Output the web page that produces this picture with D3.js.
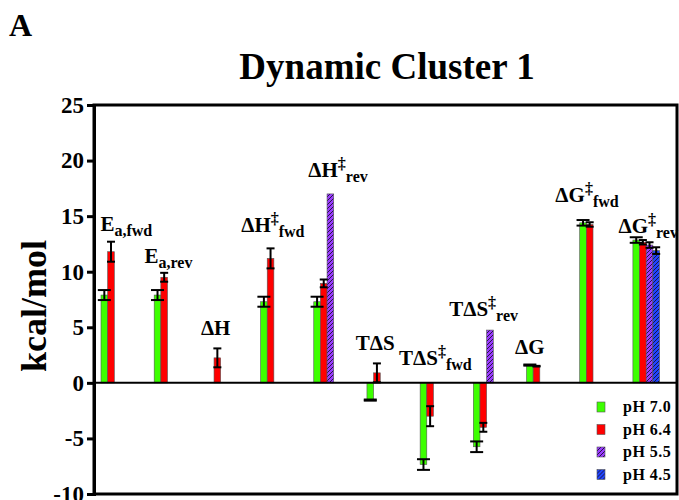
<!DOCTYPE html>
<html lang="en">
<head>
  <meta charset="UTF-8">
  <title>Dynamic Cluster 1</title>
  <style>
    body {
      margin: 0;
      background: #fff;
    }
    svg text {
      font-family: "Liberation Serif", "Times New Roman", Times, "DejaVu Serif", serif;
      font-weight: bold;
      fill: #000;
    }
  </style>
</head>
<body>
  <div id="chart"></div>

  <script src="https://d3js.org/d3.v7.min.js"></script>

  <script>
    // groups along the x axis
    const groups = ['Ea,fwd', 'Ea,rev', 'ΔH', 'ΔH‡fwd', 'ΔH‡rev', 'TΔS', 'TΔS‡fwd', 'TΔS‡rev', 'ΔG', 'ΔG‡fwd', 'ΔG‡rev'];
    // label pieces: main text, superscript, subscript
    const labelMain = ['E', 'E', 'ΔH', 'ΔH', 'ΔH', 'TΔS', 'TΔS', 'TΔS', 'ΔG', 'ΔG', 'ΔG'];
    const labelSup = ['', '', '', '‡', '‡', '', '‡', '‡', '', '‡', '‡'];
    const labelSub = ['a,fwd', 'a,rev', '', 'fwd', 'rev', '', 'fwd', 'rev', '', 'fwd', 'rev'];

    const seriesNames = ['pH 7.0', 'pH 6.4', 'pH 5.5', 'pH 4.5'];

    // values (kcal/mol), null = no bar
    const pH70 = [7.9, 7.9, null, 7.3, 7.3, -1.55, -7.35, -5.75, 1.6, 14.4, 12.85];
    const pH64 = [11.8, 9.5, 2.25, 11.2, 8.95, 0.9, -3.0, -4.0, 1.5, 14.25, 12.65];
    const pH55 = [null, null, null, null, 17.0, null, null, 4.75, null, null, 12.4];
    const pH45 = [null, null, null, null, null, null, null, null, null, null, 11.9];

    // error bars (+/-)
    const pH70err = [0.45, 0.45, null, 0.45, 0.45, 0.05, 0.48, 0.48, 0.05, 0.25, 0.25];
    const pH64err = [0.9, 0.4, 0.85, 0.9, 0.35, 0.85, 0.9, 0.4, 0.03, 0.2, 0.2];
    const pH55err = [null, null, null, null, 0, null, null, 0, null, null, 0.25];
    const pH45err = [null, null, null, null, null, null, null, null, null, null, 0.3];

    const yTicks = [-10, -5, 0, 5, 10, 15, 20, 25];

    const values = [pH70, pH64, pH55, pH45];
    const errors = [pH70err, pH64err, pH55err, pH45err];

    // hand placement of the group labels (px): lift above bar top, sideways nudge
    const labelLift = [11, 10, 13, 16, 17, 13, 18, 14, 11, 18, 4];
    const labelNudge = [12, 1, -5, -1, 11, -5, 2, -3, -10, -6, 2];

    const width = 679;
    const height = 500;
    const plot = { left: 94, right: 677, top: 105, bottom: 494 };
    const serif = '"Liberation Serif", "Times New Roman", Times, "DejaVu Serif", serif';

    const svg = d3.select('#chart')
      .append('svg')
      .attr('width', width)
      .attr('height', height)
      .attr('font-family', serif);

    const defs = svg.append('defs');
    function hatch(id, color) {
      const p = defs.append('pattern')
        .attr('id', id)
        .attr('patternUnits', 'userSpaceOnUse')
        .attr('width', 4)
        .attr('height', 4);
      p.append('rect').attr('width', 4).attr('height', 4).attr('fill', color);
      p.append('path')
        .attr('d', 'M-1,1 l2,-2 M0,4 l4,-4 M3,5 l2,-2')
        .attr('stroke', '#1a1030')
        .attr('stroke-width', 0.9);
    }
    hatch('hatch-purple', '#9a3cff');
    hatch('hatch-blue', '#1f45ff');

    const fills = ['#3dff00', '#ff0000', 'url(#hatch-purple)', 'url(#hatch-blue)'];

    const y = d3.scaleLinear()
      .domain([-10, 25])
      .range([plot.bottom, plot.top]);

    const x0 = d3.scaleBand()
      .domain(groups)
      .range([101, 659.5])
      .paddingInner(0.5)
      .paddingOuter(0);

    const x1 = d3.scaleBand()
      .domain(seriesNames)
      .range([0, x0.bandwidth()]);

    // flatten bars
    const bars = [];
    groups.forEach((g, gi) => {
      seriesNames.forEach((s, si) => {
        const v = values[si][gi];
        if (v === null) return;
        bars.push({ g, gi, s, si, v, e: errors[si][gi] || 0 });
      });
    });

    // bars
    svg.append('g')
      .selectAll('rect')
      .data(bars)
      .join('rect')
      .attr('x', d => x0(d.g) + x1(d.s))
      .attr('width', x1.bandwidth())
      .attr('y', d => y(Math.max(0, d.v)))
      .attr('height', d => Math.abs(y(d.v) - y(0)))
      .attr('fill', d => fills[d.si])
      .attr('stroke', '#555')
      .attr('stroke-width', 0.6);

    // error bars
    const eb = svg.append('g')
      .selectAll('g')
      .data(bars.filter(d => d.e > 0))
      .join('g')
      .attr('stroke', '#000')
      .attr('stroke-width', 2);

    const cx = d => x0(d.g) + x1(d.s) + x1.bandwidth() / 2;
    const capW = d => d.si === 0 ? 13 : 8;

    eb.append('line')
      .attr('x1', cx).attr('x2', cx)
      .attr('y1', d => y(d.v + d.e))
      .attr('y2', d => y(d.v - d.e));
    eb.append('line')
      .attr('x1', d => cx(d) - capW(d) / 2).attr('x2', d => cx(d) + capW(d) / 2)
      .attr('y1', d => y(d.v + d.e)).attr('y2', d => y(d.v + d.e));
    eb.append('line')
      .attr('x1', d => cx(d) - capW(d) / 2).attr('x2', d => cx(d) + capW(d) / 2)
      .attr('y1', d => y(d.v - d.e)).attr('y2', d => y(d.v - d.e));

    // zero line
    svg.append('line')
      .attr('x1', plot.left).attr('x2', plot.right)
      .attr('y1', y(0)).attr('y2', y(0))
      .attr('stroke', '#000')
      .attr('stroke-width', 2);

    // frame
    svg.append('rect')
      .attr('x', plot.left)
      .attr('y', plot.top)
      .attr('width', plot.right - plot.left)
      .attr('height', plot.bottom - plot.top)
      .attr('fill', 'none')
      .attr('stroke', '#000')
      .attr('stroke-width', 3);

    // y axis
    const yAxis = svg.append('g')
      .attr('transform', `translate(${plot.left},0)`)
      .call(d3.axisLeft(y).tickValues(yTicks).tickSize(7).tickPadding(3).tickFormat(d => String(d)));
    yAxis.attr('font-family', serif);
    yAxis.select('.domain').attr('stroke-width', 3);
    yAxis.selectAll('.tick line').attr('stroke-width', 3);
    yAxis.selectAll('.tick text')
      .style('font-weight', 'bold')
      .style('font-size', '23px');

    // group labels
    const labels = svg.append('g')
      .selectAll('text')
      .data(groups)
      .join('text')
      .attr('x', (d, i) => x0(d) + x0.bandwidth() / 2 + labelNudge[i])
      .attr('y', (d, i) => {
        let top = 0;
        bars.filter(b => b.gi === i).forEach(b => { top = Math.max(top, b.v + b.e); });
        return y(top) - labelLift[i];
      })
      .attr('text-anchor', 'middle')
      .style('font-size', '21px');

    labels.each(function(d, i) {
      const t = d3.select(this);
      t.append('tspan').text(labelMain[i]);
      let shift = 0;
      if (labelSup[i]) {
        t.append('tspan').text(labelSup[i]).attr('dy', -8).style('font-size', '16px');
        shift = -8;
      }
      if (labelSub[i]) {
        t.append('tspan').text(labelSub[i]).attr('dy', 5 - shift).style('font-size', '16px');
      }
    });

    // legend
    const legend = svg.append('g')
      .selectAll('g')
      .data(seriesNames)
      .join('g')
      .attr('transform', (d, i) => `translate(597,${402 + i * 22.5})`);
    legend.append('rect')
      .attr('width', 8)
      .attr('height', 10)
      .attr('fill', (d, i) => fills[i])
      .attr('stroke', '#555')
      .attr('stroke-width', 0.6);
    legend.append('text')
      .attr('x', 26)
      .attr('y', 10)
      .text(d => d)
      .style('font-size', '16px')
      .style('letter-spacing', '0.5px');

    // titles
    svg.append('text')
      .attr('x', 387)
      .attr('y', 79)
      .attr('text-anchor', 'middle')
      .style('font-size', '37px')
      .text('Dynamic Cluster 1');

    svg.append('text')
      .attr('x', 9)
      .attr('y', 36)
      .style('font-size', '32px')
      .text('A');

    svg.append('text')
      .attr('transform', 'translate(46,306) rotate(-90)')
      .attr('text-anchor', 'middle')
      .style('font-size', '36px')
      .text('kcal/mol');
  </script>
</body>
</html>
